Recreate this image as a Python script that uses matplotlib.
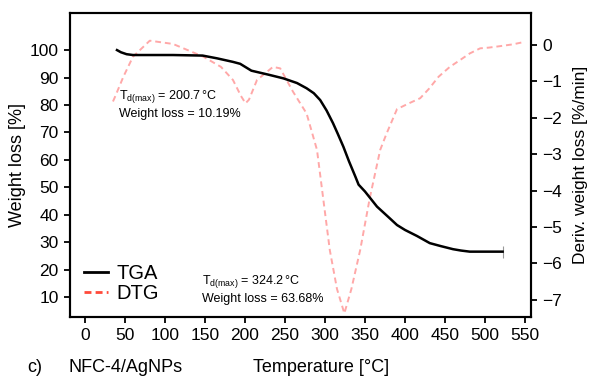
import matplotlib
matplotlib.use('Agg')
import matplotlib.pyplot as plt
from matplotlib.lines import Line2D

plt.rcParams['font.family'] = ['Liberation Sans', 'DejaVu Sans']

# TGA curve (temperature in degC, weight %)
tga_temp = [40, 45, 52, 60, 80, 110, 147, 165, 185, 194, 208, 230, 248, 265, 277,
            286, 294, 302, 310, 316, 323, 330, 338, 342, 350, 365, 380, 390, 400,
            415, 431, 445, 460, 470, 481, 500, 522]
tga_weight = [100, 99.2, 98.5, 98.2, 98.2, 98.2, 98.0, 97.0, 95.7, 95.0, 92.5, 91.0,
              89.7, 88.0, 86.1, 84.3, 81.8, 78.0, 73.4, 69.5, 64.8, 59.5, 53.9, 51.0,
              48.5, 43.0, 39.0, 36.3, 34.5, 32.3, 29.7, 28.6, 27.5, 27.0, 26.6, 26.6,
              26.6]

# DTG curve (deriv. weight loss %/min)
dtg_temp = [35, 38, 48, 60, 81, 110, 148, 170, 185, 195, 200.7, 205, 215, 235, 244,
            260, 277, 290, 306, 315, 324.2, 333, 344, 356, 369, 377, 390, 405, 419,
            430, 442, 456, 469, 481, 494, 505, 519, 535, 550]
dtg_deriv = [-1.55, -1.4, -0.87, -0.32, 0.12, 0.03, -0.32, -0.6, -0.96, -1.4, -1.6,
             -1.5, -0.96, -0.6, -0.64, -1.28, -1.88, -2.88, -5.63, -6.7, -7.37, -6.7,
             -5.63, -4.2, -2.88, -2.43, -1.76, -1.6, -1.46, -1.2, -0.87, -0.6, -0.41,
             -0.23, -0.09, -0.07, -0.03, 0.02, 0.09]

x_ticks = list(range(0, 551, 50))
left_ticks = list(range(10, 101, 10))
right_ticks = list(range(0, -8, -1))

fig = plt.figure(figsize=(5.9, 3.76), dpi=100)
ax = fig.add_axes([0.1186, 0.1569, 0.9 - 0.1186, 0.9654 - 0.1569])
ax2 = ax.twinx()

ax2.plot(dtg_temp, dtg_deriv, color='#ffa8a8', lw=1.4, ls=(0, (3, 2)))
ax.plot(tga_temp, tga_weight, color='black', lw=1.8, zorder=5)
ax.plot([tga_temp[-1]], [tga_weight[-1]], marker='|', ms=9, mew=0.8,
        color='#999999', zorder=4)
ax.set_zorder(ax2.get_zorder() + 1)
ax.patch.set_visible(False)

ax.set_xlim(-18.75, 557.5)
ax.set_ylim(2.8, 113.5)
ax2.set_ylim(-7.47, 0.88)

ax.set_xticks(x_ticks)
ax.set_yticks(left_ticks)
ax2.set_yticks(right_ticks)

for a in (ax, ax2):
    for s in a.spines.values():
        s.set_linewidth(1.5)
    a.tick_params(direction='out', length=4, width=1.3, labelsize=12.5, pad=4)

ax.set_ylabel('Weight loss [%]', fontsize=13, labelpad=3)
ax2.set_ylabel('Deriv. weight loss [%/min]', fontsize=12.5, labelpad=8)

ty = 1 - 368 / 376
fig.text(253 / 590, ty, 'Temperature [°C]', fontsize=13, va='center', ha='left')
fig.text(27 / 590, ty, 'c)', fontsize=13, va='center', ha='left')
fig.text(68 / 590, ty, 'NFC-4/AgNPs', fontsize=13, va='center', ha='left')

ax.text(42, 82.2, r'T$_{\mathregular{d(max)}}$ = 200.7$\,$°C', fontsize=9)
ax.text(42, 75.6, 'Weight loss = 10.19%', fontsize=9)
ax.text(146, 14.8, r'T$_{\mathregular{d(max)}}$ = 324.2$\,$°C', fontsize=9)
ax.text(146, 8.2, 'Weight loss = 63.68%', fontsize=9)

handles = [Line2D([], [], color='black', lw=2),
           Line2D([], [], color='#ff4a3a', lw=2, ls=(0, (2.5, 1.5)))]
ax.legend(handles, ['TGA', 'DTG'], loc='lower left', bbox_to_anchor=(0.0, 0.0),
          frameon=False, fontsize=14.5, handlelength=1.2, handletextpad=0.4,
          labelspacing=0.05, borderaxespad=0.3)

fig.savefig('out.png', dpi=100)
